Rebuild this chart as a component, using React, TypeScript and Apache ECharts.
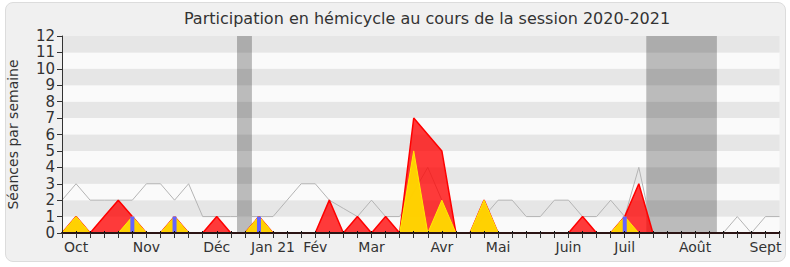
import React, { useEffect, useRef } from "react";
import * as echarts from "echarts";

// Weekly values, session 2020-2021 (week index 0 = first week of October 2020)
const mediane = [2, 3, 2, 2, 2, 2, 3, 3, 2, 3, 1, 1, 1, 1, 1, 1, 2, 3, 3, 2, 1.5, 1, 2, 1, 1, 2.5, 4, 2, 0, 0, 1, 2, 2, 1, 1, 2, 2, 1, 1, 2, 1, 4, 0, 0, 0, 0, 0, 0, 1, 0, 1, 1];
const presences = [0, 1, 0, 1, 2, 1, 0, 0, 1, 0, 0, 1, 0, 0, 1, 0, 0, 0, 0, 2, 0, 1, 0, 1, 0, 7, 6, 5, 0, 0, 2, 0, 0, 0, 0, 0, 0, 1, 0, 0, 1, 3, 0, 0, 0, 0, 0, 0, 0, 0, 0, 0];
const interventions = [0, 1, 0, 0, 0, 1, 0, 0, 1, 0, 0, 0, 0, 0, 1, 0, 0, 0, 0, 0, 0, 0, 0, 0, 0, 5, 0, 2, 0, 0, 2, 0, 0, 0, 0, 0, 0, 0, 0, 0, 1, 0, 0, 0, 0, 0, 0, 0, 0, 0, 0, 0];
const questions = [0, 0, 0, 0, 0, 1, 0, 0, 1, 0, 0, 0, 0, 0, 1, 0, 0, 0, 0, 0, 0, 0, 0, 0, 0, 0, 0, 0, 0, 0, 0, 0, 0, 0, 0, 0, 0, 0, 0, 0, 1, 0, 0, 0, 0, 0, 0, 0, 0, 0, 0, 0];

const monthLabels = ["Oct", "Nov", "Déc", "Jan 21", "Fév", "Mar", "Avr", "Mai", "Juin", "Juil", "Août", "Sept"];
const monthWeeks = [1, 6, 11, 15, 18, 22, 27, 31, 36, 40, 45, 50];

// Vacation periods (in weeks)
const vacances: [number, number][] = [
  [12.44, 13.5],
  [41.53, 46.55],
];

const yTicks = [0, 12];

const FONT = "DejaVu Sans";

export default function App() {
  const ref = useRef<HTMLDivElement>(null);

  useEffect(() => {
    if (!ref.current) return;
    const chart = echarts.init(ref.current, undefined, { renderer: "svg" });
    const toPts = (arr: number[]) => arr.map((v, i) => [i, v]);
    const labelMap: Record<number, string> = {};
    monthWeeks.forEach((w, i) => (labelMap[w] = monthLabels[i]));
    const nWeeks = mediane.length - 1;

    chart.setOption({
      animation: false,
      backgroundColor: "transparent",
      textStyle: { fontFamily: FONT },
      grid: { left: 62, right: 790 - 779.5, top: 36, bottom: 267 - 233 },
      graphic: [
        {
          type: "text",
          x: 427,
          y: 18,
          style: {
            text: "Participation en hémicycle au cours de la session 2020-2021",
            textAlign: "center",
            textVerticalAlign: "middle",
            fontFamily: FONT,
            fontSize: 16,
            fill: "#333",
          },
        },
        {
          type: "text",
          x: 13,
          y: 134.5,
          rotation: Math.PI / 2,
          style: {
            text: "Séances par semaine",
            textAlign: "center",
            textVerticalAlign: "middle",
            fontFamily: FONT,
            fontSize: 14,
            fill: "#333",
          },
        },
      ],
      xAxis: [
        {
          type: "value",
          min: 0,
          max: nWeeks,
          interval: 1,
          position: "bottom",
          z: 10,
          axisLine: { show: true, onZero: false, lineStyle: { color: "#2b1414", width: 2 } },
          axisTick: { show: true, length: 5, lineStyle: { color: "#333" } },
          axisLabel: {
            formatter: (v: number) => labelMap[v] ?? "",
            color: "#333",
            fontSize: 14,
            fontFamily: FONT,
            margin: 7,
          },
          splitLine: { show: false },
        },
        {
          type: "value",
          min: 0,
          max: nWeeks,
          interval: 1,
          position: "top",
          z: 10,
          axisLine: { show: false },
          axisTick: { show: true, length: 2, lineStyle: { color: "#111" } },
          axisLabel: { show: false },
          splitLine: { show: false },
        },
      ],
      yAxis: [
        {
          type: "value",
          min: yTicks[0],
          max: yTicks[1],
          interval: 1,
          z: 0,
          axisLine: { show: false },
          axisTick: { show: false },
          axisLabel: { show: false },
          splitLine: { show: false },
          splitArea: { show: true, areaStyle: { color: ["#fafafa", "#e6e6e6"] } },
        },
        {
          type: "value",
          min: yTicks[0],
          max: yTicks[1],
          interval: 1,
          position: "left",
          z: 10,
          axisLine: { show: true, lineStyle: { color: "#333" } },
          axisTick: { show: true, length: 5, lineStyle: { color: "#333" } },
          axisLabel: { color: "#333", fontSize: 15, lineHeight: 15, fontFamily: FONT, margin: 7 },
          splitLine: { show: false },
          splitArea: { show: false },
        },
      ],
      series: [
        {
          name: "Médiane",
          type: "line",
          data: toPts(mediane),
          symbol: "none",
          z: 2,
          lineStyle: { color: "#b4b4b4", width: 1 },
          markArea: {
            silent: true,
            itemStyle: { color: "rgba(0,0,0,0.25)" },
            data: vacances.map(([a, b]) => [{ xAxis: a }, { xAxis: b }]),
          },
        },
        {
          name: "Présences",
          type: "line",
          data: toPts(presences),
          symbol: "none",
          z: 3,
          lineStyle: { color: "#ff0000", width: 1.5 },
          areaStyle: { color: "rgba(255,0,0,0.77)", opacity: 1 },
        },
        {
          name: "Interventions",
          type: "line",
          data: toPts(interventions),
          symbol: "none",
          z: 4,
          lineStyle: { color: "#ffec00", width: 1 },
          areaStyle: { color: "rgba(255,214,0,0.97)", opacity: 1 },
        },
        {
          name: "Questions",
          type: "bar",
          data: toPts(questions),
          barWidth: 4,
          z: 5,
          itemStyle: { color: "#6464ff" },
        },
      ],
    });
    return () => chart.dispose();
  }, []);

  return (
    <div style={{ position: "fixed", left: 0, top: 0, width: 790, height: 267, background: "#fff" }}>
      <div
        style={{
          position: "absolute",
          left: 5,
          top: 2,
          width: 781,
          height: 260,
          boxSizing: "border-box",
          background: "#f0f0f0",
          border: "1px solid #dcdcdc",
          borderRadius: 8,
        }}
      />
      <div ref={ref} style={{ position: "absolute", left: 0, top: 0, width: 790, height: 267 }} />
    </div>
  );
}
